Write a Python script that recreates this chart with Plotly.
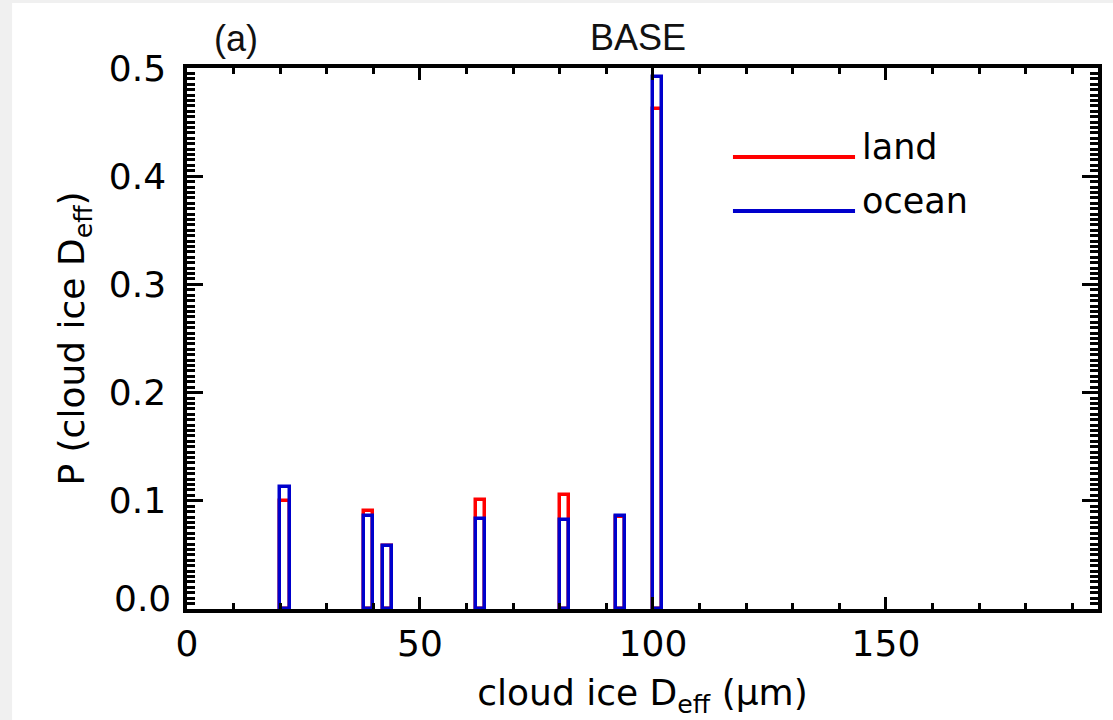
import plotly.graph_objects as go

# Histogram of cloud ice effective diameter, 2-um bins
bin_left = [20, 38, 42, 62, 80, 92, 100]
bin_width = 2
land = [0.100, 0.091, 0.058, 0.101, 0.105, 0.085, 0.462]
ocean = [0.113, 0.086, 0.058, 0.083, 0.082, 0.086, 0.492]

x_ticks = [0, 50, 100, 150]
y_ticks = [0.1, 0.2, 0.3, 0.4, 0.5]
y_zero_label = "0.0"

centers = [b + bin_width / 2 for b in bin_left]

RED = "#ff0000"
BLUE = "#0000cc"
FONT = "DejaVu Sans"
TXT = dict(family=FONT, size=36, color="black")

fig = go.Figure()
for vals, col, name in [(land, RED, "land"), (ocean, BLUE, "ocean")]:
    fig.add_trace(go.Bar(
        x=centers, y=vals, width=bin_width, base=0, name=name,
        marker=dict(color="rgba(0,0,0,0)", line=dict(color=col, width=3.5)),
        showlegend=False,
    ))

axis_common = dict(
    showline=True, linecolor="black", linewidth=3.5, mirror="ticks",
    ticks="inside", tickcolor="black", tickwidth=3,
    showgrid=False, zeroline=False,
    tickfont=TXT,
)

fig.update_xaxes(
    **axis_common, range=[0, 195.5], tickvals=x_ticks, ticklen=12,
    minor=dict(dtick=10, tick0=0, ticks="inside", ticklen=6, tickwidth=3, tickcolor="black"),
    ticklabelstandoff=0,
    title=dict(text="cloud ice D<sub>eff</sub> (μm)", font=TXT, standoff=18),
)
fig.update_yaxes(
    **axis_common, range=[0, 0.5], tickvals=y_ticks, tickformat=".1f", ticklen=16,
    minor=dict(dtick=0.005, tick0=0, ticks="inside", ticklen=8, tickwidth=2.5, tickcolor="black"),
    ticklabelstandoff=10,
    title=dict(text="P (cloud ice D<sub>eff</sub>)", font=TXT, standoff=14),
)

# bottom tick label sits slightly above the axis line
fig.add_annotation(xref="paper", yref="y", x=0, y=0, text=y_zero_label,
                   showarrow=False, xanchor="right", yanchor="middle", xshift=-14, yshift=11,
                   font=TXT)

# legend drawn as line samples with labels
for i, (name, col) in enumerate([("land", RED), ("ocean", BLUE)]):
    ly = 0.8355 - i * 0.0998
    fig.add_shape(type="line", xref="paper", yref="paper", x0=0.5993, x1=0.7333, y0=ly, y1=ly,
                  line=dict(color=col, width=4))
    fig.add_annotation(xref="paper", yref="paper", x=0.7385, y=ly + 0.018, text=name,
                       showarrow=False, xanchor="left", yanchor="middle",
                       font=dict(family=FONT, size=35, color="black"))

# panel labels
fig.add_annotation(xref="paper", yref="paper", x=0.0538, y=1.055, text="(a)", showarrow=False,
                   xanchor="center", yanchor="middle",
                   font=dict(family="Liberation Sans", size=36, color="#111"))
fig.add_annotation(xref="paper", yref="paper", x=0.4951, y=1.057, text="BASE", showarrow=False,
                   xanchor="center", yanchor="middle",
                   font=dict(family="Liberation Sans", size=36, color="#111"))

# white page on a light grey frame
fig.add_shape(type="rect", xref="paper", yref="paper", layer="below",
              x0=-0.192, x1=1.02, y0=-0.21, y1=1.12, fillcolor="white", line=dict(width=0))

fig.update_layout(
    width=1113, height=720,
    margin=dict(l=187, r=15, t=68, b=111),
    paper_bgcolor="#f0f0f0", plot_bgcolor="white",
    barmode="overlay", bargap=0,
    showlegend=False,
)

fig.write_html("out.html")
